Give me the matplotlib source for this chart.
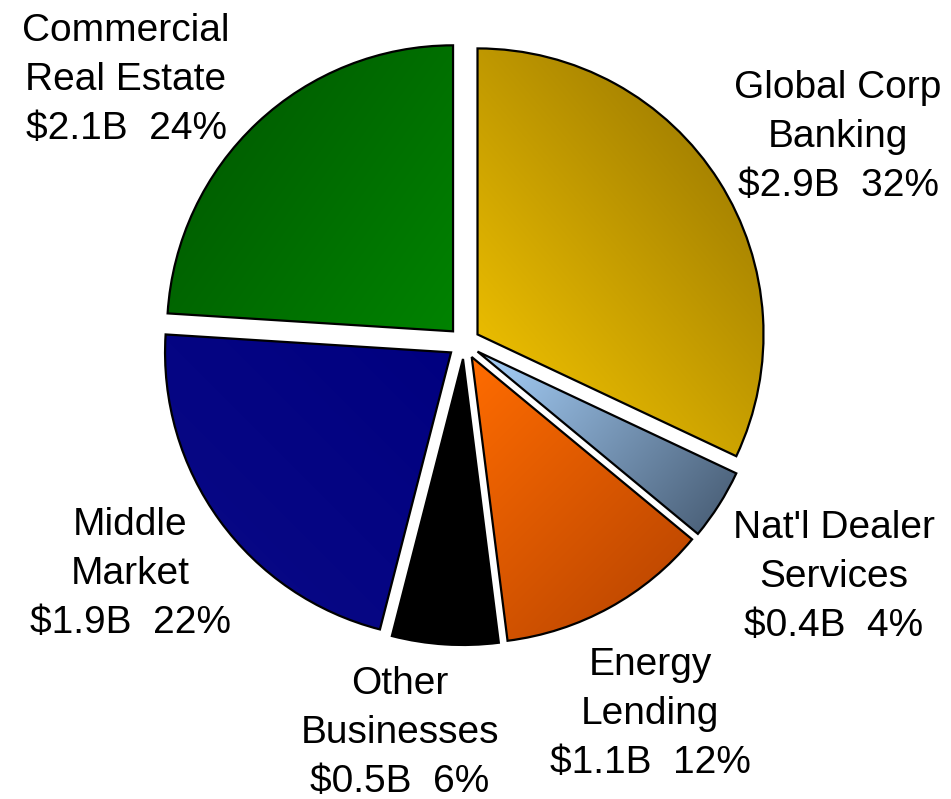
import numpy as np
import matplotlib
matplotlib.use("Agg")
import matplotlib.pyplot as plt
from matplotlib.colors import to_rgb
from matplotlib.patches import PathPatch

# Loan portfolio mix by business line
segments = ["Global Corp\nBanking", "Nat'l Dealer\nServices", "Energy\nLending",
            "Other\nBusinesses", "Middle\nMarket", "Commercial\nReal Estate"]
balances_b = [2.9, 0.4, 1.1, 0.5, 1.9, 2.1]
shares_pct = [32, 4, 12, 6, 22, 24]

# Two-stop gradient per slice: (start colour, end colour, direction in degrees)
fills = [
    ("#FACA00", "#8E6E00", 40),
    ("#A8D2FC", "#44586F", -40),
    ("#FF6C00", "#B44200", -45),
    ("#000000", "#000000", 0),
    ("#0A0A86", "#000080", 45),
    ("#005400", "#008300", -35),
]

W, H = 951, 799
fig = plt.figure(figsize=(W / 100, H / 100), dpi=100)
ax = fig.add_axes([0, 0, 1, 1])

cx, cy, radius = 464, H - 343, 286
gap = 16  # radial offset of every slice, in data units (pixels)
wedges, _ = ax.pie(shares_pct, startangle=90, counterclock=False,
                   explode=[gap] * len(shares_pct),
                   center=(cx, cy), radius=radius,
                   wedgeprops=dict(linewidth=0))

ax.set_xlim(0, W)
ax.set_ylim(0, H)
ax.set_aspect("equal")
ax.axis("off")

for w, (c0, c1, ang) in zip(wedges, fills):
    path = w.get_path()
    ext = path.get_extents()
    x0, y0, x1, y1 = ext.x0, ext.y0, ext.x1, ext.y1
    n = 300
    X, Y = np.meshgrid(np.linspace(x0, x1, n), np.linspace(y0, y1, n))
    a = np.deg2rad(ang)
    proj = X * np.cos(a) + Y * np.sin(a)
    t = (proj - proj.min()) / max(proj.max() - proj.min(), 1e-9)
    c0r, c1r = np.array(to_rgb(c0)), np.array(to_rgb(c1))
    img = c0r[None, None, :] * (1 - t[..., None]) + c1r[None, None, :] * t[..., None]
    w.set_facecolor(c0)
    im = ax.imshow(img, origin="lower", extent=(x0, x1, y0, y1),
                   interpolation="bilinear", zorder=2, aspect="auto")
    im.set_clip_path(w)
    ax.add_patch(PathPatch(path, fill=False, edgecolor="black",
                           linewidth=1.6, zorder=3, joinstyle="miter"))

ax.set_xlim(0, W)
ax.set_ylim(0, H)

# Label positions (x centre, y of middle line)
label_pos = [(838, 662), (834, 222), (650, 85), (400, 66), (130, 225), (126, 719)]
for name, bal, pct, (lx, ly) in zip(segments, balances_b, shares_pct, label_pos):
    ax.text(lx, ly, f"{name}\n${bal:.1f}B  {pct}%", ha="center", va="center",
            fontsize=28, family="Liberation Sans", linespacing=1.45,
            color="black", zorder=5)

fig.savefig("out.png", dpi=100, facecolor="white")
